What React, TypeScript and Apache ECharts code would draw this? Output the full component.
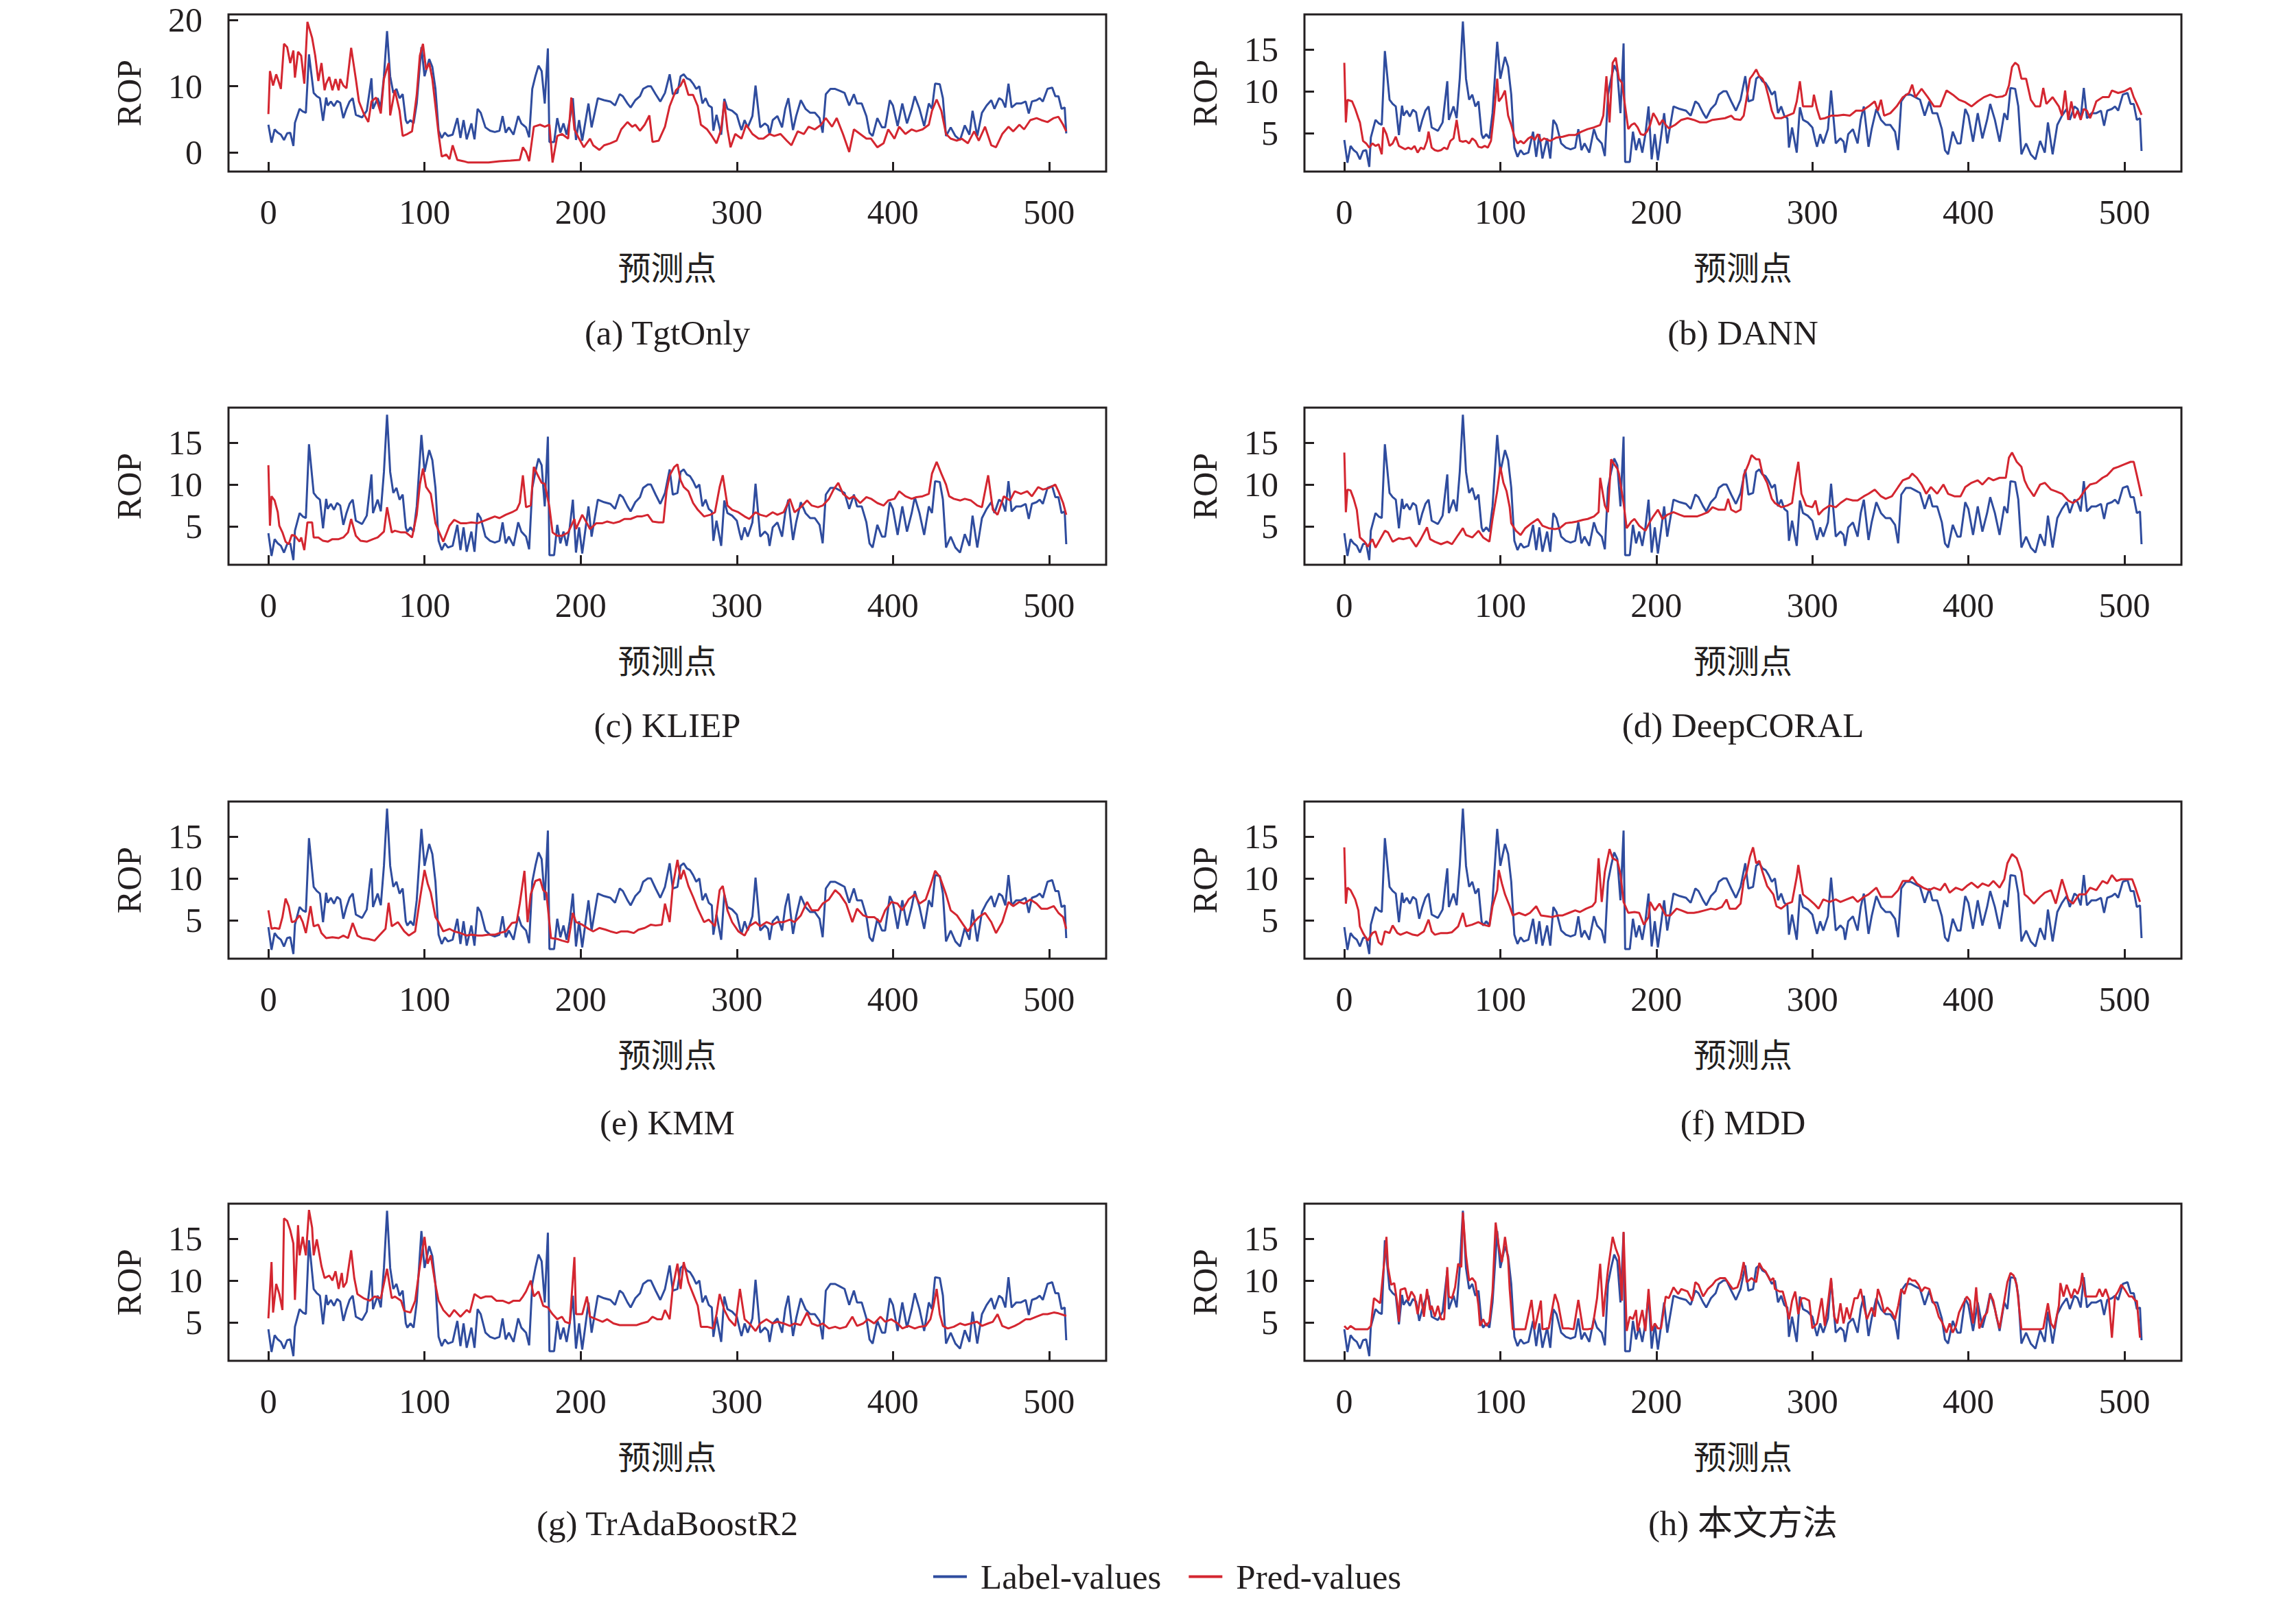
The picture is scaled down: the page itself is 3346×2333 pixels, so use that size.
import React, { useEffect, useRef } from "react";
import * as echarts from "echarts";

const W = 3346;
const H = 2333;

const panelTitles = ["(a) TgtOnly", "(b) DANN", "(c) KLIEP", "(d) DeepCORAL", "(e) KMM", "(f) MDD", "(g) TrAdaBoostR2", "(h) 本文方法"];
const xTicks = [0, 100, 200, 300, 400, 500];
const yTicksA = [0, 10, 20];
const yTicksOther = [5, 10, 15];
const legendNames = ["Label-values", "Pred-values"];

const labelValues = [[0,4.2],[2,1.5],[4,3.5],[6,3.0],[8,2.7],[10,1.9],[12,2.9],[14,3.0],[16,1.0],[17,4.5],[20,6.6],[22,6.2],[24,6.0],[26,14.8],[29,9.0],[31,8.5],[33,8.2],[35,4.8],[37,8.3],[38,7.1],[40,7.7],[42,7.0],[44,7.8],[46,7.5],[48,5.2],[50,6.6],[52,7.7],[54,8.2],[56,5.7],[60,5.3],[63,6.3],[66,11.2],[67,6.6],[70,8.2],[72,6.8],[74,11.5],[76,18.3],[78,11.5],[80,9.0],[82,9.6],[84,8.2],[86,8.8],[88,4.9],[89,4.4],[91,4.9],[93,4.4],[95,7.4],[98,15.9],[100,11.5],[103,14.1],[105,12.9],[107,9.6],[109,3.3],[111,2.2],[113,3.0],[115,2.5],[118,2.7],[121,5.2],[123,2.2],[125,4.9],[127,2.0],[130,4.4],[132,2.0],[134,6.6],[136,6.0],[139,3.8],[142,3.3],[145,3.1],[148,3.3],[150,5.5],[152,3.0],[154,3.8],[157,2.7],[160,5.5],[162,4.4],[165,3.8],[167,2.3],[169,9.6],[171,11.5],[173,13.1],[175,12.3],[177,7.4],[179,15.7],[180,1.6],[183,1.6],[185,5.2],[187,3.0],[189,4.4],[191,2.7],[193,4.9],[195,8.2],[197,1.9],[199,4.9],[201,1.8],[203,4.6],[205,7.4],[207,3.8],[211,8.2],[215,7.9],[219,7.7],[222,7.1],[225,8.8],[227,8.5],[230,7.4],[232,6.8],[235,7.9],[238,8.5],[240,9.6],[243,10.0],[245,10.0],[248,8.8],[251,7.7],[254,9.0],[257,11.8],[259,8.8],[262,9.0],[264,11.5],[266,11.8],[268,11.2],[270,11.0],[272,10.4],[274,9.6],[276,10.0],[278,7.4],[280,8.2],[282,7.1],[284,6.8],[285,3.3],[287,5.7],[290,2.7],[292,8.1],[294,6.6],[297,6.3],[300,5.7],[302,4.1],[303,3.4],[305,4.9],[307,3.8],[310,5.5],[312,10.1],[315,3.8],[318,4.4],[320,4.0],[321,2.7],[323,4.9],[326,5.5],[329,3.8],[331,6.6],[333,8.2],[336,3.4],[338,5.5],[341,7.9],[344,6.6],[347,6.0],[350,6.0],[353,5.2],[355,3.0],[357,8.8],[360,9.6],[363,9.6],[366,9.3],[369,9.0],[372,7.1],[375,8.8],[377,7.4],[380,7.4],[383,5.5],[385,3.0],[387,2.5],[390,5.2],[393,3.8],[395,3.8],[398,7.9],[400,7.1],[403,4.0],[406,7.4],[409,4.4],[412,6.6],[414,8.5],[417,6.6],[420,4.0],[423,7.4],[425,6.6],[427,10.4],[430,10.3],[432,8.2],[434,2.5],[437,3.8],[440,2.5],[443,1.9],[446,4.1],[449,2.7],[451,6.3],[454,2.5],[457,6.0],[460,7.1],[463,7.9],[465,6.6],[468,8.2],[470,7.9],[472,6.8],[474,10.4],[476,6.8],[479,7.4],[482,7.4],[485,7.7],[487,5.9],[489,7.7],[492,7.9],[494,8.2],[496,7.7],[499,9.6],[502,9.8],[504,8.5],[506,8.5],[508,6.6],[510,6.8],[511,2.9]];

const predTgtOnly = [[0,5.8],[1,12.3],[3,10.1],[5,11.8],[6,11.1],[8,9.6],[10,16.4],[12,15.9],[14,13.5],[16,15.4],[17,11.3],[19,15.2],[21,14.6],[23,10.4],[25,19.7],[28,17.3],[30,14.6],[32,10.8],[34,13.5],[36,9.4],[37,10.4],[39,11.4],[41,9.4],[43,11.1],[45,9.4],[46,11.1],[48,10.1],[50,9.7],[53,15.8],[56,11.1],[58,7.7],[61,5.9],[64,4.6],[66,7.7],[69,8.3],[72,5.9],[74,11.1],[77,13.5],[78,5.6],[81,9.4],[84,6.3],[86,2.5],[89,2.8],[92,3.2],[95,8.7],[97,14.6],[99,16.4],[101,12.5],[103,13.5],[105,11.1],[107,7.0],[109,2.8],[111,-0.6],[114,-0.3],[116,-1.0],[118,1.1],[121,-1.1],[125,-1.3],[128,-1.5],[134,-1.5],[141,-1.5],[148,-1.3],[155,-1.2],[161,-1.1],[163,0.8],[165,0.1],[167,-1.3],[170,3.9],[174,4.2],[177,3.9],[180,4.2],[182,-1.5],[185,2.5],[188,2.8],[192,2.1],[194,8.3],[196,3.5],[199,2.1],[202,0.8],[206,2.1],[208,1.1],[212,0.4],[215,1.1],[219,1.4],[223,1.8],[226,3.5],[230,4.6],[233,3.9],[235,4.2],[238,3.3],[241,4.2],[244,5.6],[246,1.6],[250,1.8],[254,3.9],[257,7.0],[261,9.4],[264,10.1],[266,11.1],[269,8.7],[272,8.7],[275,7.0],[277,4.2],[281,3.5],[284,2.5],[287,1.4],[290,3.5],[292,7.7],[294,3.5],[296,0.8],[299,2.8],[303,2.1],[306,4.2],[310,2.8],[314,2.1],[317,2.1],[321,2.8],[324,2.5],[328,2.8],[332,1.8],[335,1.1],[339,3.2],[343,2.8],[346,3.9],[350,3.5],[354,4.2],[357,5.2],[361,3.9],[364,5.2],[368,2.8],[372,0.1],[375,3.5],[379,2.8],[383,2.1],[386,2.1],[390,0.8],[394,1.4],[397,3.5],[401,2.1],[404,3.9],[408,2.8],[412,3.5],[415,3.2],[419,3.5],[423,4.2],[425,6.3],[428,8.0],[431,6.3],[434,2.8],[437,2.1],[441,1.8],[444,2.1],[448,1.4],[452,3.2],[455,1.8],[459,3.9],[463,1.1],[466,0.8],[470,2.8],[474,3.9],[477,3.2],[481,4.2],[484,3.5],[488,4.9],[492,5.2],[495,4.9],[499,4.6],[503,5.2],[506,5.4],[509,4.2],[511,3.2]];

const predDANN = [[0,13.4],[1,6.3],[2,9.0],[5,8.8],[7,7.9],[9,6.8],[10,6.3],[12,4.1],[14,3.8],[16,3.3],[18,3.8],[20,3.5],[22,3.7],[24,2.5],[25,5.7],[27,4.9],[29,3.5],[31,3.8],[33,4.6],[35,3.5],[37,3.3],[39,3.1],[41,3.3],[43,3.1],[45,3.5],[47,2.7],[49,3.3],[51,3.1],[53,4.1],[54,5.2],[56,3.3],[58,3.0],[60,2.9],[62,3.0],[64,3.3],[66,3.1],[68,4.1],[70,4.4],[72,6.6],[74,4.1],[76,4.0],[78,4.1],[80,3.8],[82,4.4],[84,4.1],[86,3.4],[88,3.3],[90,3.5],[92,3.3],[94,4.1],[96,7.4],[98,11.5],[99,8.8],[101,9.3],[103,10.1],[105,7.1],[107,6.0],[109,4.6],[111,3.8],[113,4.1],[115,3.8],[118,4.4],[120,4.6],[122,4.2],[124,4.9],[126,4.1],[128,4.4],[132,4.1],[136,4.5],[140,4.6],[144,4.8],[148,4.8],[152,5.2],[156,5.5],[160,5.7],[164,6.0],[166,7.1],[168,11.8],[170,6.3],[172,13.4],[174,14.0],[176,11.5],[178,11.0],[180,8.2],[182,5.5],[184,6.0],[186,6.2],[188,5.7],[190,4.9],[192,4.8],[194,5.2],[196,6.0],[198,7.4],[200,6.8],[202,6.0],[204,6.6],[206,6.0],[208,5.6],[212,6.0],[216,6.6],[220,6.8],[224,6.6],[228,6.3],[232,6.3],[236,6.6],[240,6.7],[244,6.8],[248,7.1],[250,6.7],[254,6.6],[256,7.1],[258,9.3],[260,11.5],[262,12.0],[264,12.6],[266,11.8],[268,11.5],[270,10.7],[272,9.3],[274,7.7],[276,6.8],[280,6.8],[284,7.1],[288,7.4],[290,8.8],[292,11.2],[294,8.2],[298,8.2],[300,8.2],[301,9.6],[303,7.9],[305,6.7],[308,6.8],[312,7.1],[316,7.1],[320,7.2],[324,7.1],[328,7.7],[332,7.7],[336,8.2],[340,8.8],[342,7.7],[344,9.0],[346,7.1],[350,7.4],[354,8.2],[358,9.3],[362,9.8],[364,10.8],[366,9.3],[370,10.3],[374,9.3],[378,8.2],[382,8.2],[386,10.1],[390,9.6],[394,9.0],[398,8.7],[402,8.2],[406,8.8],[410,9.3],[414,9.6],[418,9.3],[422,9.4],[424,9.6],[426,10.7],[428,12.9],[430,13.4],[432,13.1],[434,11.5],[437,11.5],[440,9.0],[443,8.2],[446,8.2],[448,10.4],[450,8.5],[454,9.3],[458,8.2],[460,7.1],[462,10.1],[464,6.6],[466,8.8],[468,6.8],[470,7.7],[472,6.6],[474,7.9],[476,7.7],[478,6.8],[480,7.7],[482,8.8],[486,9.3],[490,9.3],[492,10.1],[496,9.8],[500,10.0],[504,10.4],[506,9.3],[508,8.5],[511,7.2]];

const predKLIEP = [[0,12.3],[1,5.1],[2,8.6],[4,8.1],[6,6.7],[7,5.1],[9,4.3],[11,3.2],[13,2.9],[15,4.0],[17,3.9],[20,3.2],[21,3.7],[23,2.2],[25,5.5],[28,5.5],[29,3.7],[32,3.7],[35,3.3],[38,3.2],[41,3.5],[45,3.5],[48,3.7],[51,4.3],[53,5.9],[56,3.9],[59,3.3],[63,3.2],[67,3.5],[70,3.7],[74,4.4],[76,7.3],[79,4.3],[81,4.5],[85,4.3],[88,4.3],[92,3.7],[95,6.4],[97,10.0],[99,11.9],[101,9.7],[104,8.9],[107,5.4],[109,4.5],[112,3.2],[116,5.1],[119,5.8],[123,5.4],[127,5.4],[130,5.5],[134,5.4],[137,5.6],[141,5.9],[145,6.2],[148,6.0],[152,6.4],[156,6.7],[159,7.0],[161,7.8],[163,11.1],[165,7.3],[168,7.5],[170,12.1],[172,11.3],[175,10.2],[177,10.1],[180,7.3],[182,4.3],[185,3.9],[188,3.9],[192,4.3],[196,5.9],[197,4.7],[201,6.4],[204,5.4],[206,4.7],[210,5.4],[214,5.4],[217,5.6],[221,5.4],[225,5.6],[228,5.9],[232,5.9],[236,6.2],[239,6.2],[243,6.4],[246,5.6],[250,5.5],[253,5.5],[255,9.2],[257,11.1],[260,12.1],[262,12.4],[264,10.5],[266,9.7],[269,9.2],[272,7.8],[275,7.0],[279,6.2],[283,6.4],[286,6.7],[289,9.7],[291,11.1],[294,7.5],[297,7.0],[301,6.7],[305,6.2],[308,5.9],[312,6.7],[315,6.4],[319,6.2],[323,6.7],[326,6.4],[330,6.7],[334,8.3],[337,6.7],[341,7.3],[345,8.1],[348,7.5],[352,7.3],[355,7.5],[359,8.3],[362,9.4],[365,10.2],[368,8.9],[372,8.3],[375,8.6],[379,7.8],[383,8.5],[386,8.3],[390,7.8],[394,7.5],[397,8.1],[401,8.3],[404,9.2],[408,8.6],[412,8.3],[415,8.5],[419,8.6],[423,8.9],[425,11.3],[428,12.7],[431,11.3],[434,10.0],[436,8.6],[439,8.3],[443,8.1],[446,8.3],[450,8.1],[454,7.5],[457,7.3],[461,11.1],[464,7.0],[467,6.4],[471,8.6],[475,8.1],[478,9.2],[482,8.9],[486,9.2],[489,8.6],[493,9.7],[496,9.4],[500,9.6],[504,10.0],[506,9.2],[509,7.8],[511,6.4]];

const predDeepCORAL = [[0,13.8],[1,6.7],[2,9.4],[4,9.3],[6,8.3],[8,7.0],[10,3.7],[13,3.2],[15,2.6],[18,3.5],[20,2.5],[23,3.5],[26,4.5],[28,4.3],[31,3.2],[35,3.6],[38,3.5],[42,3.7],[46,2.6],[49,3.5],[53,4.9],[55,3.5],[58,3.2],[62,2.9],[66,3.2],[69,2.9],[73,4.0],[76,4.8],[78,4.0],[82,3.7],[86,4.5],[89,3.7],[93,3.2],[95,5.9],[98,9.2],[100,12.1],[102,10.2],[104,9.2],[106,7.3],[107,5.4],[110,4.5],[113,4.0],[116,4.8],[120,5.4],[124,5.9],[127,5.1],[131,4.8],[135,4.7],[138,4.8],[142,5.4],[146,5.5],[149,5.6],[153,5.8],[156,5.9],[160,6.2],[163,6.7],[164,10.8],[167,7.5],[169,6.7],[171,13.0],[173,12.4],[175,11.9],[176,11.3],[179,7.8],[181,4.8],[184,5.6],[186,5.9],[189,5.1],[193,4.5],[196,5.6],[198,6.2],[201,7.0],[204,5.9],[207,6.4],[211,6.7],[215,6.4],[218,6.2],[222,6.2],[226,6.2],[229,6.4],[233,6.7],[236,7.3],[240,7.0],[244,7.0],[246,8.3],[248,7.0],[251,6.7],[254,7.0],[256,11.1],[259,12.4],[261,13.5],[264,13.0],[266,13.0],[268,11.3],[271,10.2],[274,8.3],[276,7.8],[280,7.3],[284,7.5],[287,7.8],[289,10.5],[291,12.7],[293,8.9],[296,7.5],[300,7.3],[302,8.1],[304,6.4],[307,7.0],[311,7.5],[315,7.3],[318,7.8],[322,8.3],[326,8.1],[329,8.1],[333,8.6],[336,8.9],[340,9.4],[344,8.6],[347,8.3],[351,8.6],[355,9.7],[358,10.5],[362,10.8],[364,11.3],[367,10.8],[370,10.0],[373,8.9],[376,9.7],[380,8.9],[384,10.0],[387,8.9],[391,8.6],[395,8.6],[398,9.7],[402,10.2],[406,10.5],[409,10.0],[413,10.8],[416,10.5],[420,10.8],[424,10.8],[426,13.2],[428,13.8],[431,12.7],[434,12.1],[436,10.5],[438,9.7],[442,8.6],[446,10.0],[449,10.2],[453,9.4],[456,9.2],[460,8.9],[464,8.1],[467,7.8],[471,8.3],[475,9.4],[478,10.0],[482,10.2],[486,10.8],[489,11.1],[493,11.9],[496,12.1],[500,12.4],[504,12.7],[506,12.7],[508,11.1],[511,8.6]];

const predKMM = [[0,6.2],[2,4.0],[4,4.1],[7,4.0],[9,5.4],[11,7.6],[13,6.7],[15,4.8],[17,4.9],[20,5.6],[22,4.8],[24,3.5],[27,6.7],[29,4.3],[32,4.5],[34,3.5],[37,2.9],[41,3.0],[45,2.9],[48,3.2],[51,2.9],[54,4.7],[57,3.2],[60,2.9],[64,2.8],[68,2.6],[71,3.2],[75,4.0],[77,7.1],[79,4.3],[83,4.8],[87,3.7],[90,3.2],[94,3.7],[97,7.5],[100,11.0],[102,9.4],[104,8.3],[107,5.4],[109,4.8],[112,3.7],[116,4.0],[119,3.7],[123,3.5],[127,3.2],[130,3.3],[134,3.2],[137,3.2],[141,3.3],[145,3.3],[148,3.5],[152,3.7],[156,4.7],[159,4.8],[161,7.0],[164,10.9],[166,4.8],[168,8.1],[171,9.7],[174,9.9],[176,8.6],[178,8.3],[181,2.9],[185,2.8],[188,2.6],[192,2.4],[195,5.9],[197,4.8],[201,4.5],[205,4.0],[208,3.7],[212,4.1],[216,3.9],[219,3.7],[223,3.5],[226,3.7],[230,3.7],[234,3.5],[237,3.9],[241,4.1],[245,4.5],[248,4.4],[252,4.5],[254,7.0],[257,4.8],[259,9.1],[262,12.2],[264,9.9],[266,11.0],[269,9.1],[272,7.8],[275,6.4],[279,4.8],[282,5.1],[286,4.3],[289,8.6],[291,9.1],[294,6.2],[297,4.8],[301,3.7],[305,3.2],[308,4.3],[312,4.8],[315,4.3],[319,4.8],[323,4.5],[326,4.8],[330,4.8],[334,5.1],[337,4.8],[341,5.6],[345,7.2],[348,6.2],[352,6.2],[355,7.0],[359,7.5],[363,8.6],[366,8.1],[370,7.0],[374,4.8],[377,6.4],[381,5.6],[384,5.4],[388,5.4],[392,4.8],[395,6.2],[399,7.2],[403,7.0],[406,6.2],[410,7.5],[414,8.1],[417,7.0],[421,7.5],[424,9.1],[427,10.9],[430,10.2],[434,8.1],[437,6.2],[441,5.6],[445,4.5],[448,3.7],[452,4.8],[455,5.4],[459,5.9],[463,4.8],[466,3.5],[470,4.8],[474,7.2],[477,6.7],[481,7.2],[484,7.0],[488,7.5],[492,7.0],[495,6.4],[499,6.4],[503,6.7],[506,5.9],[509,5.4],[511,4.0]];

const predMDD = [[0,13.7],[1,7.0],[2,8.9],[4,8.6],[7,7.5],[9,6.2],[10,4.3],[12,3.5],[15,2.6],[18,3.5],[20,3.7],[22,2.4],[24,2.1],[26,3.7],[29,3.5],[31,4.4],[34,3.5],[36,3.3],[40,3.6],[44,3.3],[47,3.2],[51,3.7],[54,5.1],[56,3.7],[58,3.3],[62,3.5],[66,3.5],[69,3.6],[73,4.3],[76,5.9],[78,4.3],[82,4.5],[86,4.8],[89,4.5],[93,4.3],[95,6.7],[98,8.6],[99,11.0],[101,9.4],[103,8.1],[106,6.7],[108,5.6],[112,5.9],[116,5.6],[119,5.9],[123,6.7],[126,5.6],[130,5.5],[133,5.4],[137,5.6],[140,5.6],[144,5.9],[148,6.2],[151,6.0],[155,6.4],[159,6.7],[161,7.2],[163,12.4],[165,7.2],[167,10.8],[170,13.5],[172,12.4],[175,12.1],[177,10.5],[179,7.2],[182,5.9],[186,6.0],[189,5.9],[192,4.5],[195,5.4],[196,7.2],[199,6.2],[202,7.0],[206,5.6],[209,5.6],[213,6.4],[216,6.2],[220,5.9],[224,5.9],[227,6.0],[231,6.2],[235,6.4],[238,6.3],[242,6.6],[245,7.5],[247,6.4],[251,6.4],[254,7.0],[256,9.7],[258,10.8],[260,12.6],[262,13.7],[264,11.8],[266,12.1],[268,10.8],[271,9.1],[275,8.1],[277,6.7],[280,6.4],[284,7.0],[287,7.2],[290,10.2],[291,11.6],[294,8.1],[298,7.5],[301,7.0],[304,6.4],[307,7.5],[311,7.2],[315,7.5],[318,7.2],[322,7.5],[326,7.8],[329,7.2],[333,7.8],[336,8.1],[341,8.9],[344,7.8],[347,7.8],[351,7.8],[355,8.6],[358,9.7],[362,9.7],[364,10.2],[367,9.4],[371,8.9],[375,8.6],[378,8.9],[382,8.6],[385,9.4],[388,8.3],[392,8.9],[396,8.6],[399,9.1],[402,9.5],[406,8.9],[409,9.4],[413,9.1],[416,9.7],[420,8.9],[423,9.9],[425,11.8],[428,12.9],[431,12.4],[434,10.8],[436,8.1],[438,7.8],[442,7.0],[446,7.8],[449,8.3],[453,8.6],[456,7.0],[460,9.9],[464,7.5],[467,7.0],[471,8.1],[475,8.1],[478,8.9],[482,8.6],[486,9.7],[489,9.4],[492,10.4],[495,9.7],[498,9.9],[502,9.9],[505,9.9],[507,8.9],[510,7.2]];

const predTrAdaBoostR2 = [[0,5.5],[2,12.2],[3,6.2],[5,9.6],[7,8.4],[9,6.5],[10,17.4],[12,17.1],[14,16.0],[16,14.4],[17,7.7],[19,16.6],[20,13.0],[22,15.2],[24,13.0],[26,18.4],[28,16.3],[29,13.0],[31,14.9],[34,11.7],[36,10.3],[39,10.6],[41,10.0],[43,11.1],[45,9.0],[47,10.9],[48,9.2],[50,9.8],[53,13.6],[55,10.3],[57,8.4],[61,7.9],[65,7.6],[68,8.1],[72,7.9],[76,11.4],[79,7.9],[81,8.1],[85,7.6],[87,6.4],[91,6.2],[94,7.6],[97,11.7],[100,15.2],[102,12.0],[104,13.0],[107,9.5],[109,7.6],[112,6.5],[116,5.7],[119,6.5],[123,5.7],[127,6.5],[129,6.2],[132,8.4],[136,7.9],[139,8.1],[143,8.1],[146,7.6],[150,7.6],[154,7.3],[157,7.6],[161,7.6],[163,8.1],[165,8.7],[168,10.0],[170,8.1],[173,8.7],[176,7.0],[179,6.8],[182,6.0],[185,5.4],[188,5.7],[190,5.1],[193,4.9],[196,12.8],[197,6.0],[201,6.0],[204,8.1],[206,5.7],[210,5.4],[214,5.1],[217,5.4],[221,4.9],[225,4.7],[228,4.7],[232,4.7],[236,4.7],[239,4.9],[243,5.1],[246,5.7],[249,5.4],[252,5.4],[254,6.5],[257,5.4],[259,9.2],[262,12.0],[264,9.0],[266,12.2],[269,9.8],[272,8.4],[275,7.0],[277,4.5],[281,4.5],[285,4.3],[287,6.0],[289,8.4],[292,6.5],[295,5.4],[299,4.6],[302,9.0],[305,5.4],[308,4.9],[312,4.0],[315,4.9],[319,5.4],[323,4.9],[326,5.1],[330,4.9],[334,4.6],[337,4.9],[341,4.7],[345,6.2],[348,4.9],[352,4.6],[355,4.9],[359,4.3],[363,4.5],[366,4.3],[370,4.5],[374,5.7],[377,4.6],[381,4.9],[384,5.4],[388,4.9],[392,5.7],[395,5.1],[399,5.4],[403,4.9],[406,4.3],[410,4.6],[414,4.3],[417,4.5],[421,4.6],[424,5.4],[426,7.0],[428,9.0],[430,6.0],[432,4.6],[435,4.3],[439,4.5],[443,4.9],[446,4.7],[450,4.9],[454,5.1],[457,4.6],[461,4.9],[464,5.1],[467,6.0],[470,4.6],[474,4.3],[478,4.6],[481,4.9],[485,5.4],[488,5.4],[492,5.7],[496,6.0],[499,6.0],[503,6.2],[506,6.1],[511,5.8]];

const predOurs = [[0,4.6],[2,4.2],[4,4.6],[7,4.2],[11,4.2],[15,4.2],[17,4.6],[19,7.9],[21,7.6],[23,7.3],[26,13.0],[27,15.2],[28,11.6],[30,9.5],[32,9.7],[34,7.3],[35,5.1],[36,8.9],[39,9.1],[41,7.6],[43,8.7],[45,8.1],[47,6.0],[49,8.4],[51,5.7],[53,9.0],[55,6.5],[56,7.0],[58,5.7],[60,7.0],[62,5.4],[64,5.4],[66,11.6],[67,8.1],[69,7.9],[71,9.2],[73,12.0],[75,11.6],[76,18.1],[78,13.0],[80,10.0],[82,10.3],[84,9.8],[86,7.0],[87,4.6],[89,5.4],[91,4.6],[93,5.1],[95,8.7],[97,16.9],[99,14.1],[101,12.2],[103,15.2],[105,12.5],[106,9.0],[108,4.2],[113,4.2],[116,4.2],[120,7.7],[122,4.2],[126,7.6],[127,4.2],[131,4.3],[135,8.4],[137,7.3],[140,4.3],[144,4.3],[147,4.2],[150,7.7],[153,4.2],[156,4.2],[159,4.3],[162,7.9],[164,12.0],[166,5.7],[167,7.9],[169,11.3],[172,15.2],[174,13.8],[176,12.8],[178,7.6],[179,15.8],[181,4.0],[183,5.7],[185,5.4],[187,6.5],[188,4.0],[191,6.5],[193,4.0],[195,9.0],[197,4.0],[199,4.9],[201,4.3],[203,4.3],[206,8.1],[208,7.9],[211,9.2],[214,8.4],[216,9.0],[220,8.7],[223,7.6],[225,9.8],[227,9.5],[230,8.1],[233,9.0],[236,9.5],[238,10.0],[241,10.3],[244,10.3],[247,9.5],[249,9.0],[252,9.2],[254,10.3],[256,12.2],[258,9.8],[261,10.3],[264,9.8],[266,12.1],[268,11.4],[270,11.1],[273,10.0],[275,10.3],[276,9.0],[279,8.7],[281,8.7],[283,7.3],[285,5.4],[287,7.6],[289,8.7],[291,6.0],[293,7.9],[295,7.9],[298,7.6],[300,4.3],[303,4.9],[306,7.9],[308,4.6],[310,7.3],[312,10.3],[314,5.7],[316,4.9],[318,7.3],[320,4.9],[322,6.8],[324,5.4],[327,7.9],[329,7.9],[331,9.0],[333,7.0],[335,5.4],[338,6.8],[340,5.7],[342,9.0],[344,7.9],[346,6.2],[348,6.8],[351,6.2],[353,5.4],[355,7.0],[357,9.0],[359,8.4],[362,10.3],[364,10.0],[366,10.0],[368,9.5],[370,8.7],[372,9.2],[375,9.0],[377,7.6],[379,7.0],[381,5.7],[383,5.1],[386,3.8],[388,4.9],[390,3.8],[392,4.6],[394,6.2],[396,7.0],[399,8.1],[401,7.6],[403,4.9],[405,9.2],[407,4.3],[410,5.7],[412,6.2],[414,8.4],[416,7.6],[418,5.7],[420,4.3],[423,7.6],[425,9.8],[427,10.9],[429,10.6],[431,9.5],[434,4.2],[437,4.2],[442,4.2],[446,4.2],[448,4.3],[451,7.3],[453,4.9],[455,4.3],[458,7.0],[459,9.7],[461,8.1],[463,9.5],[466,7.9],[468,9.0],[470,8.4],[472,9.5],[473,10.9],[475,8.1],[477,8.1],[479,8.1],[482,8.1],[484,9.0],[486,8.1],[488,9.0],[490,7.9],[492,3.2],[494,8.1],[496,8.7],[498,9.5],[500,9.0],[503,8.1],[505,8.1],[507,7.6],[508,7.6],[510,3.2]];

const predSeries = [predTgtOnly, predDANN, predKLIEP, predDeepCORAL, predKMM, predMDD, predTrAdaBoostR2, predOurs];

const BLUE = "#2f4c9e";
const RED = "#d42630";
const INK = "#231f20";
const SERIF = "'Liberation Serif', 'Times New Roman', serif";
const CJK = "'Noto Sans CJK SC', 'Liberation Serif', sans-serif";
const MIXED = "'Liberation Serif', 'Noto Sans CJK SC', serif";

const colLeft = [333, 1901];
const colWidth = [1279, 1278];
const rowTop = [21, 594, 1168, 1754];
const boxH = 229;
const captionY = [485, 1057, 1636, 2220];

function buildOption() {
  const grids: any[] = [];
  const xAxes: any[] = [];
  const yAxes: any[] = [];
  const series: any[] = [];
  const graphics: any[] = [];

  for (let i = 0; i < 8; i++) {
    const col = i % 2;
    const row = Math.floor(i / 2);
    grids.push({
      left: colLeft[col],
      top: rowTop[row],
      width: colWidth[col],
      height: boxH,
      show: true,
      borderColor: INK,
      borderWidth: 3,
      backgroundColor: "transparent",
      containLabel: false,
    });
    xAxes.push({
      type: "value",
      gridIndex: i,
      position: "bottom",
      min: -25.55,
      max: 536.55,
      axisLine: { show: false, onZero: false },
      splitLine: { show: false },
      axisTick: { show: true, inside: true, length: 14, customValues: xTicks, lineStyle: { color: INK, width: 3 } },
      axisLabel: { customValues: xTicks, fontSize: 50, fontFamily: SERIF, color: INK, margin: 34 },
      name: "预测点",
      nameLocation: "middle",
      nameGap: 113,
      nameTextStyle: { fontSize: 48, fontFamily: CJK, color: INK },
    });
    const isA = i === 0;
    const yt = isA ? yTicksA : yTicksOther;
    yAxes.push({
      type: "value",
      gridIndex: i,
      position: "left",
      min: isA ? -2.86 : 0.45,
      max: isA ? 20.83 : 19.15,
      axisLine: { show: false, onZero: false },
      splitLine: { show: false },
      axisTick: { show: true, inside: true, length: 14, customValues: yt, lineStyle: { color: INK, width: 3 } },
      axisLabel: { customValues: yt, fontSize: 50, fontFamily: SERIF, color: INK, margin: 38 },
      name: "ROP",
      nameLocation: "middle",
      nameGap: 120,
      nameTextStyle: { fontSize: 50, fontFamily: SERIF, color: INK },
    });
    series.push({
      type: "line",
      name: legendNames[0],
      xAxisIndex: i,
      yAxisIndex: i,
      data: labelValues,
      showSymbol: false,
      symbol: "none",
      color: BLUE,
      lineStyle: { color: BLUE, width: 3 },
      z: 2,
    });
    series.push({
      type: "line",
      name: legendNames[1],
      xAxisIndex: i,
      yAxisIndex: i,
      data: predSeries[i],
      showSymbol: false,
      symbol: "none",
      color: RED,
      lineStyle: { color: RED, width: 3 },
      z: 3,
    });
    graphics.push({
      type: "text",
      x: colLeft[col] + colWidth[col] / 2,
      y: captionY[row],
      style: {
        text: panelTitles[i],
        fontSize: 51,
        fontFamily: MIXED,
        fill: INK,
        align: "center",
        verticalAlign: "middle",
      },
    });
  }

  return {
    animation: false,
    backgroundColor: "#ffffff",
    grid: grids,
    xAxis: xAxes,
    yAxis: yAxes,
    series,
    graphic: graphics,
    legend: {
      data: legendNames,
      left: 1360,
      top: 2272,
      orient: "horizontal",
      icon: "rect",
      itemWidth: 49,
      itemHeight: 4,
      itemGap: 40,
      padding: 0,
      selectedMode: false,
      textStyle: { fontSize: 51, fontFamily: SERIF, color: INK, padding: [0, 0, 0, 15] },
    },
  };
}

export default function App() {
  const ref = useRef<HTMLDivElement>(null);
  useEffect(() => {
    if (!ref.current) return;
    const chart = echarts.init(ref.current, null, { renderer: "svg", width: W, height: H });
    chart.setOption(buildOption() as any);
    return () => {
      chart.dispose();
    };
  }, []);
  return (
    <div
      ref={ref}
      style={{ position: "absolute", left: 0, top: 0, width: W, height: H, background: "#ffffff" }}
    />
  );
}
